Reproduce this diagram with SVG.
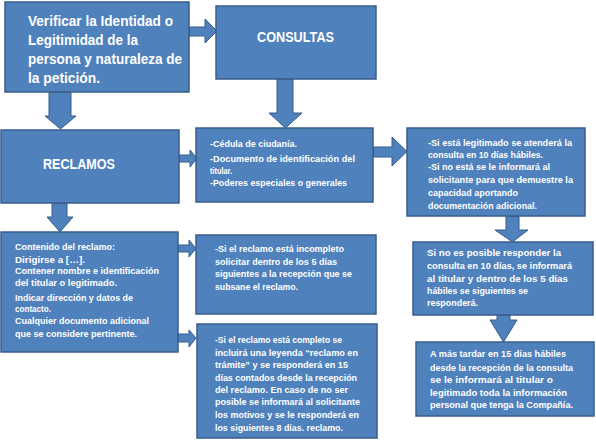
<svg xmlns="http://www.w3.org/2000/svg" width="596" height="441" viewBox="0 0 596 441">
<style>
.box{fill:#4F81BD;stroke:#385D8A;stroke-width:1.5}
.arr{fill:#4F81BD;stroke:#385D8A;stroke-width:1}
text{font-family:"Liberation Sans",Arial,sans-serif;font-weight:bold;fill:#FFFFFF}
.t{font-size:9.8px}
.h{font-size:14.5px}
</style>
<rect width="596" height="441" fill="#FFFFFF"/>
<g id="connectors">
<polygon class="arr" points="189,27 205,27 205,19 217,31 205,43 205,36 189,36"/>
<polygon class="arr" points="49,92 71,92 71,116 76,116 60.5,129 45,116 49,116"/>
<polygon class="arr" points="277,79 293,79 293,113 302,113 285.5,128 269,113 277,113"/>
<polygon class="arr" points="179,155 190,155 190,150 197,158.5 190,167 190,162 179,162"/>
<polygon class="arr" points="373,147 392,147 392,137 407,151.5 392,166 392,157 373,157"/>
<polygon class="arr" points="506,216 519,216 519,230 528,230 512.5,242 495,230 506,230"/>
<polygon class="arr" points="497,315 510,315 510,320 517,320 503.5,342 490,320 497,320"/>
<polygon class="arr" points="52,203 67,203 67,217 73,217 60,232 47,217 52,217"/>
<polygon class="arr" points="178,245 189,245 189,240 196,248.5 189,257 189,252 178,252"/>
<polygon class="arr" points="178,334 189,334 189,330 196,338 189,347 189,342 178,342"/>
</g>
<g id="verificar">
<rect class="box" x="5" y="2" width="184" height="90"/>
<text class="h" x="28" y="26" textLength="145" lengthAdjust="spacingAndGlyphs">Verificar la Identidad o</text>
<text class="h" x="28" y="45" textLength="110" lengthAdjust="spacingAndGlyphs">Legitimidad de la</text>
<text class="h" x="28" y="64" textLength="154" lengthAdjust="spacingAndGlyphs">persona y naturaleza de</text>
<text class="h" x="28" y="83" textLength="72" lengthAdjust="spacingAndGlyphs">la petición.</text>
</g>
<g id="consultas">
<rect class="box" x="216" y="6" width="160" height="73"/>
<text class="h" x="257" y="42" textLength="77" lengthAdjust="spacingAndGlyphs">CONSULTAS</text>
</g>
<g id="reclamos">
<rect class="box" x="1" y="130" width="178" height="73"/>
<text class="h" x="43" y="169" textLength="72" lengthAdjust="spacingAndGlyphs">RECLAMOS</text>
</g>
<g id="cedula">
<rect class="box" x="196" y="128" width="177" height="74"/>
<text class="t" x="210" y="147" textLength="87" lengthAdjust="spacingAndGlyphs">-Cédula de ciudanía.</text>
<text class="t" x="210" y="162" textLength="145" lengthAdjust="spacingAndGlyphs">-Documento de identificación  del</text>
<text class="t" x="210" y="174" textLength="22" lengthAdjust="spacingAndGlyphs">titular.</text>
<text class="t" x="210" y="186" textLength="137" lengthAdjust="spacingAndGlyphs">-Poderes especiales o generales</text>
</g>
<g id="legitimado">
<rect class="box" x="407" y="128" width="178" height="88"/>
<text class="t" x="428" y="146" textLength="144" lengthAdjust="spacingAndGlyphs">-Si está legitimado se atenderá la</text>
<text class="t" x="428" y="158" textLength="115" lengthAdjust="spacingAndGlyphs">consulta  en 10 días hábiles.</text>
<text class="t" x="428" y="170" textLength="122" lengthAdjust="spacingAndGlyphs">-Si no está se le informará al</text>
<text class="t" x="428" y="183" textLength="145" lengthAdjust="spacingAndGlyphs">solicitante para que demuestre la</text>
<text class="t" x="428" y="196" textLength="90" lengthAdjust="spacingAndGlyphs">capacidad  aportando</text>
<text class="t" x="428" y="209" textLength="109" lengthAdjust="spacingAndGlyphs">documentación  adicional.</text>
</g>
<g id="noposible">
<rect class="box" x="413" y="242" width="180" height="73"/>
<text class="t" x="427" y="256" textLength="134" lengthAdjust="spacingAndGlyphs">Si no es posible responder la</text>
<text class="t" x="427" y="269" textLength="145" lengthAdjust="spacingAndGlyphs">consulta en 10 días, se informará</text>
<text class="t" x="427" y="282" textLength="141" lengthAdjust="spacingAndGlyphs">al titular y dentro de los 5 días</text>
<text class="t" x="427" y="294" textLength="101" lengthAdjust="spacingAndGlyphs">hábiles se siguientes se</text>
<text class="t" x="427" y="306" textLength="51" lengthAdjust="spacingAndGlyphs">responderá.</text>
</g>
<g id="amastardar">
<rect class="box" x="416" y="342" width="178" height="74"/>
<text class="t" x="430" y="357" textLength="136" lengthAdjust="spacingAndGlyphs">A más tardar en 15 días hábiles</text>
<text class="t" x="430" y="371" textLength="143" lengthAdjust="spacingAndGlyphs">desde la recepción de la consulta</text>
<text class="t" x="430" y="383" textLength="123" lengthAdjust="spacingAndGlyphs">se le informará al titular o</text>
<text class="t" x="430" y="396" textLength="137" lengthAdjust="spacingAndGlyphs">legitimado toda la información</text>
<text class="t" x="430" y="408" textLength="143" lengthAdjust="spacingAndGlyphs">personal que tenga la Compañía.</text>
</g>
<g id="contenido">
<rect class="box" x="1" y="232" width="177" height="120"/>
<text class="t" x="15" y="250" textLength="100" lengthAdjust="spacingAndGlyphs">Contenido del reclamo:</text>
<text class="t" x="15" y="263" textLength="70" lengthAdjust="spacingAndGlyphs">Dirigirse a […].</text>
<text class="t" x="15" y="274" textLength="144" lengthAdjust="spacingAndGlyphs">Contener nombre e identificación</text>
<text class="t" x="15" y="286" textLength="102" lengthAdjust="spacingAndGlyphs">del titular o legitimado.</text>
<text class="t" x="15" y="301" textLength="118" lengthAdjust="spacingAndGlyphs">Indicar dirección y datos de</text>
<text class="t" x="15" y="312" textLength="36" lengthAdjust="spacingAndGlyphs">contacto.</text>
<text class="t" x="15" y="324" textLength="134" lengthAdjust="spacingAndGlyphs">Cualquier documento adicional</text>
<text class="t" x="15" y="337" textLength="122" lengthAdjust="spacingAndGlyphs">que se considere pertinente.</text>
</g>
<g id="incompleto">
<rect class="box" x="196" y="235" width="180" height="79"/>
<text class="t" x="215" y="252" textLength="129" lengthAdjust="spacingAndGlyphs">-Si el reclamo está incompleto</text>
<text class="t" x="215" y="265" textLength="122" lengthAdjust="spacingAndGlyphs">solicitar dentro de los 5 días</text>
<text class="t" x="215" y="277" textLength="137" lengthAdjust="spacingAndGlyphs">siguientes a la recepción que se</text>
<text class="t" x="215" y="290" textLength="83" lengthAdjust="spacingAndGlyphs">subsane el reclamo.</text>
</g>
<g id="completo">
<rect class="box" x="197" y="324" width="180" height="114"/>
<text class="t" x="215" y="343" textLength="127" lengthAdjust="spacingAndGlyphs">-Si el reclamo está  completo se</text>
<text class="t" x="215" y="356" textLength="143" lengthAdjust="spacingAndGlyphs">incluirá  una leyenda “reclamo en</text>
<text class="t" x="215" y="368" textLength="133" lengthAdjust="spacingAndGlyphs">trámite” y se responderá en 15</text>
<text class="t" x="215" y="381" textLength="142" lengthAdjust="spacingAndGlyphs">días contados desde la recepción</text>
<text class="t" x="215" y="393" textLength="133" lengthAdjust="spacingAndGlyphs">del reclamo. En caso de no ser</text>
<text class="t" x="215" y="405" textLength="145" lengthAdjust="spacingAndGlyphs">posible se informará al solicitante</text>
<text class="t" x="215" y="418" textLength="144" lengthAdjust="spacingAndGlyphs">los motivos y se le responderá en</text>
<text class="t" x="215" y="431" textLength="128" lengthAdjust="spacingAndGlyphs">los siguientes 8 días. reclamo.</text>
</g>
</svg>
